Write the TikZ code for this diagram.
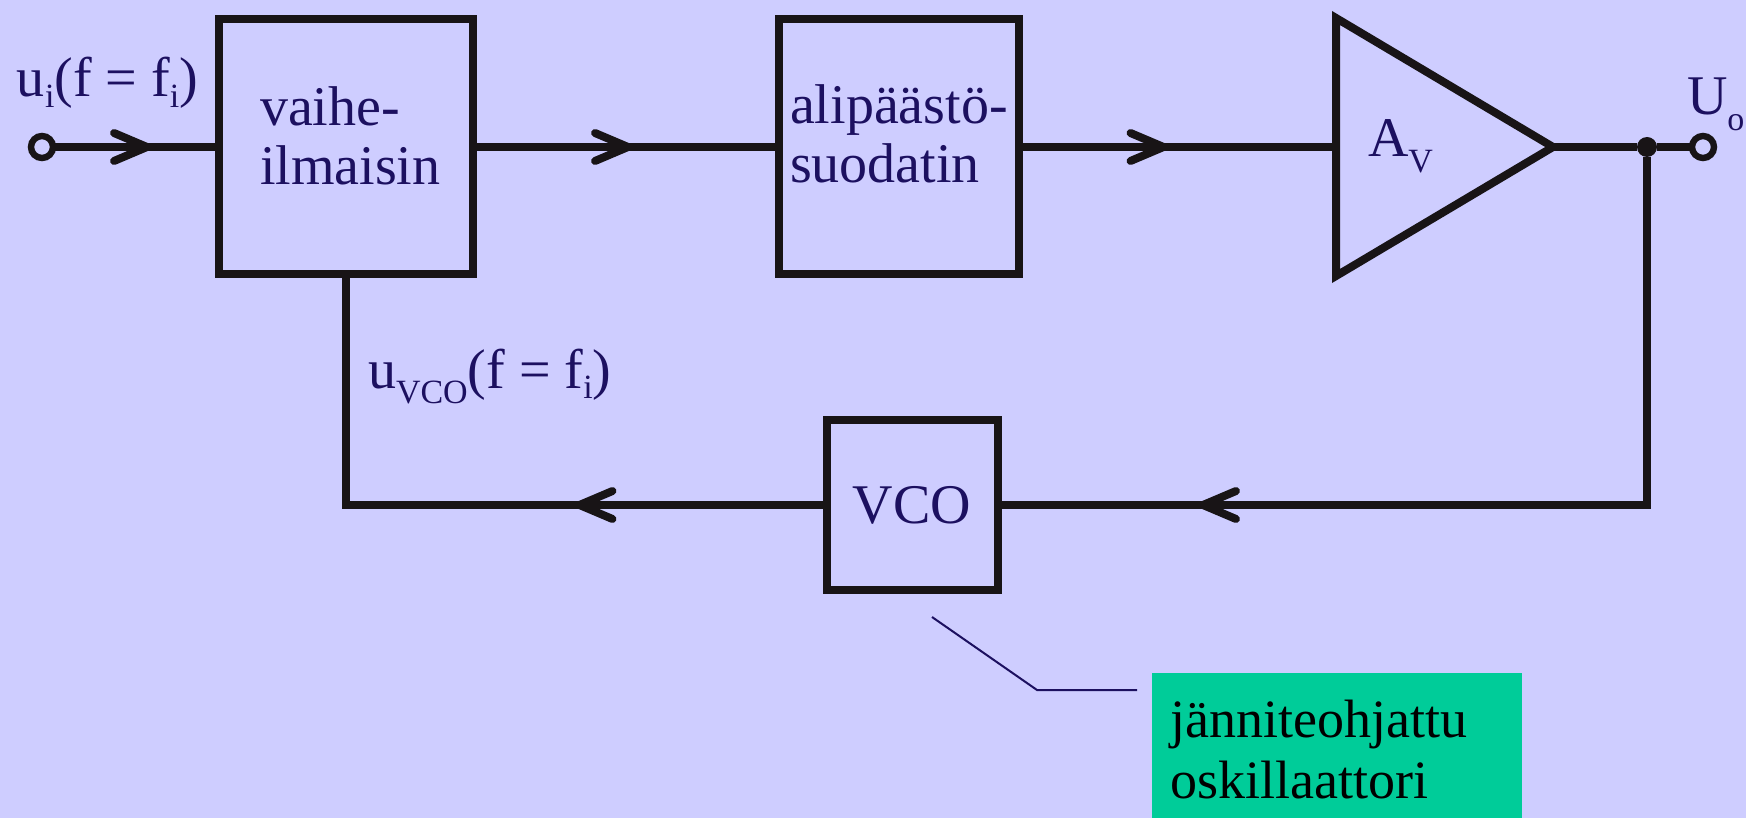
\documentclass[tikz,border=0pt]{standalone}
\usepackage{fontspec}
\setmainfont{Liberation Serif}
\usetikzlibrary{decorations.markings}
\definecolor{bg}{RGB}{206,205,255}
\definecolor{ink}{RGB}{28,16,96}
\definecolor{wirec}{RGB}{24,20,22}
\definecolor{notegreen}{RGB}{0,204,153}
% lowered subscript: #1 = drop, #2 = text
\newcommand\lowsub[2]{\raisebox{-#1}{\fontsize{17pt}{17pt}\selectfont #2}}

\begin{document}
\begin{tikzpicture}[x=0.5pt,y=-0.5pt,
  wire/.style={draw=wirec,line width=4pt},
  blk/.style={wire,rectangle,inner sep=0pt,outer sep=0pt},
  lbl/.style={text=ink,inner sep=0pt,outer sep=0pt,font=\fontsize{28pt}{29.5pt}\selectfont},
  term/.style={circle,draw=wirec,line width=3.2pt,fill=bg,minimum size=11pt,inner sep=0pt,outer sep=0pt},
  jdot/.style={circle,fill=wirec,minimum size=10pt,inner sep=0pt,outer sep=0pt},
  barb at/.style={postaction={decorate,decoration={markings,
     mark=at position #1 with {\draw[draw=wirec,line width=4pt,line cap=round,line join=miter]
       (-16.5pt,-7pt) -- (0pt,0pt) -- (-16.5pt,7pt);}}}}
]
\useasboundingbox[fill=bg] (0,0) rectangle (1746,818);

% signal-path blocks
\node[blk,minimum width=127pt,minimum height=127.5pt] (pd) at (346,147) {};
\node[blk,minimum width=120pt,minimum height=127.5pt] (lpf) at (898.5,147) {};
\node[blk,lbl,minimum width=85.5pt,minimum height=85pt] (vco) at (912,505) {VCO};

% amplifier triangle
\draw[wire,line join=miter] (1336,18) -- (1553,147) -- (1336,276) -- cycle;
\coordinate (ampin) at (1336,147);
\coordinate (ampout) at (1553,147);

% terminals and junction
\node[term] (in) at (42,147) {};
\node[jdot] (j) at (1647,147) {};
\node[term] (out) at (1703,147) {};

% connectors
\draw[wire,barb at=47pt] (in) -- (pd);
\draw[wire,barb at=77.5pt] (pd) -- (lpf);
\draw[wire,barb at=72.5pt] (lpf) -- (ampin);
\draw[wire] (ampout) -- (j) -- (out);
\draw[wire,barb at=396pt] (j) |- (vco);
\draw[wire,barb at=123.5pt] (vco) -| (pd);

% labels
\node[lbl,anchor=base west] (uin) at (17,97) {u\lowsub{5.5pt}{i}(f = f\lowsub{5.5pt}{i})};
\node[lbl,anchor=base west,align=left] (pdtext) at (260,185) {vaihe-\\ilmaisin};
\node[lbl,anchor=base west,align=left] (lpftext) at (790,183) {alipäästö-\\suodatin};
\node[lbl,anchor=base west] (gain) at (1368,157) {A\lowsub{8pt}{V}};
\node[lbl,anchor=base west] (uout) at (1687,115) {U\lowsub{8pt}{o}};
\node[lbl,anchor=base west] (uvco) at (368,388) {u\lowsub{7.5pt}{VCO}(f = f\lowsub{5.5pt}{i})};

% explanatory note with leader line
\node[fill=notegreen,inner sep=0pt,outer sep=0pt,minimum width=185pt,minimum height=80pt,anchor=north west] (note) at (1152,673) {};
\node[anchor=base west,align=left,inner sep=0pt,font=\fontsize{27pt}{30.5pt}\selectfont,text=black] (notetext) at (1170,798) {jänniteohjattu\\oskillaattori};
\coordinate (lead0) at (932,617);
\coordinate (lead1) at (1037,690);
\coordinate (lead2) at (1137,690);
\draw[ink,line width=1pt] (lead0) -- (lead1) -- (lead2);
\end{tikzpicture}
\end{document}
